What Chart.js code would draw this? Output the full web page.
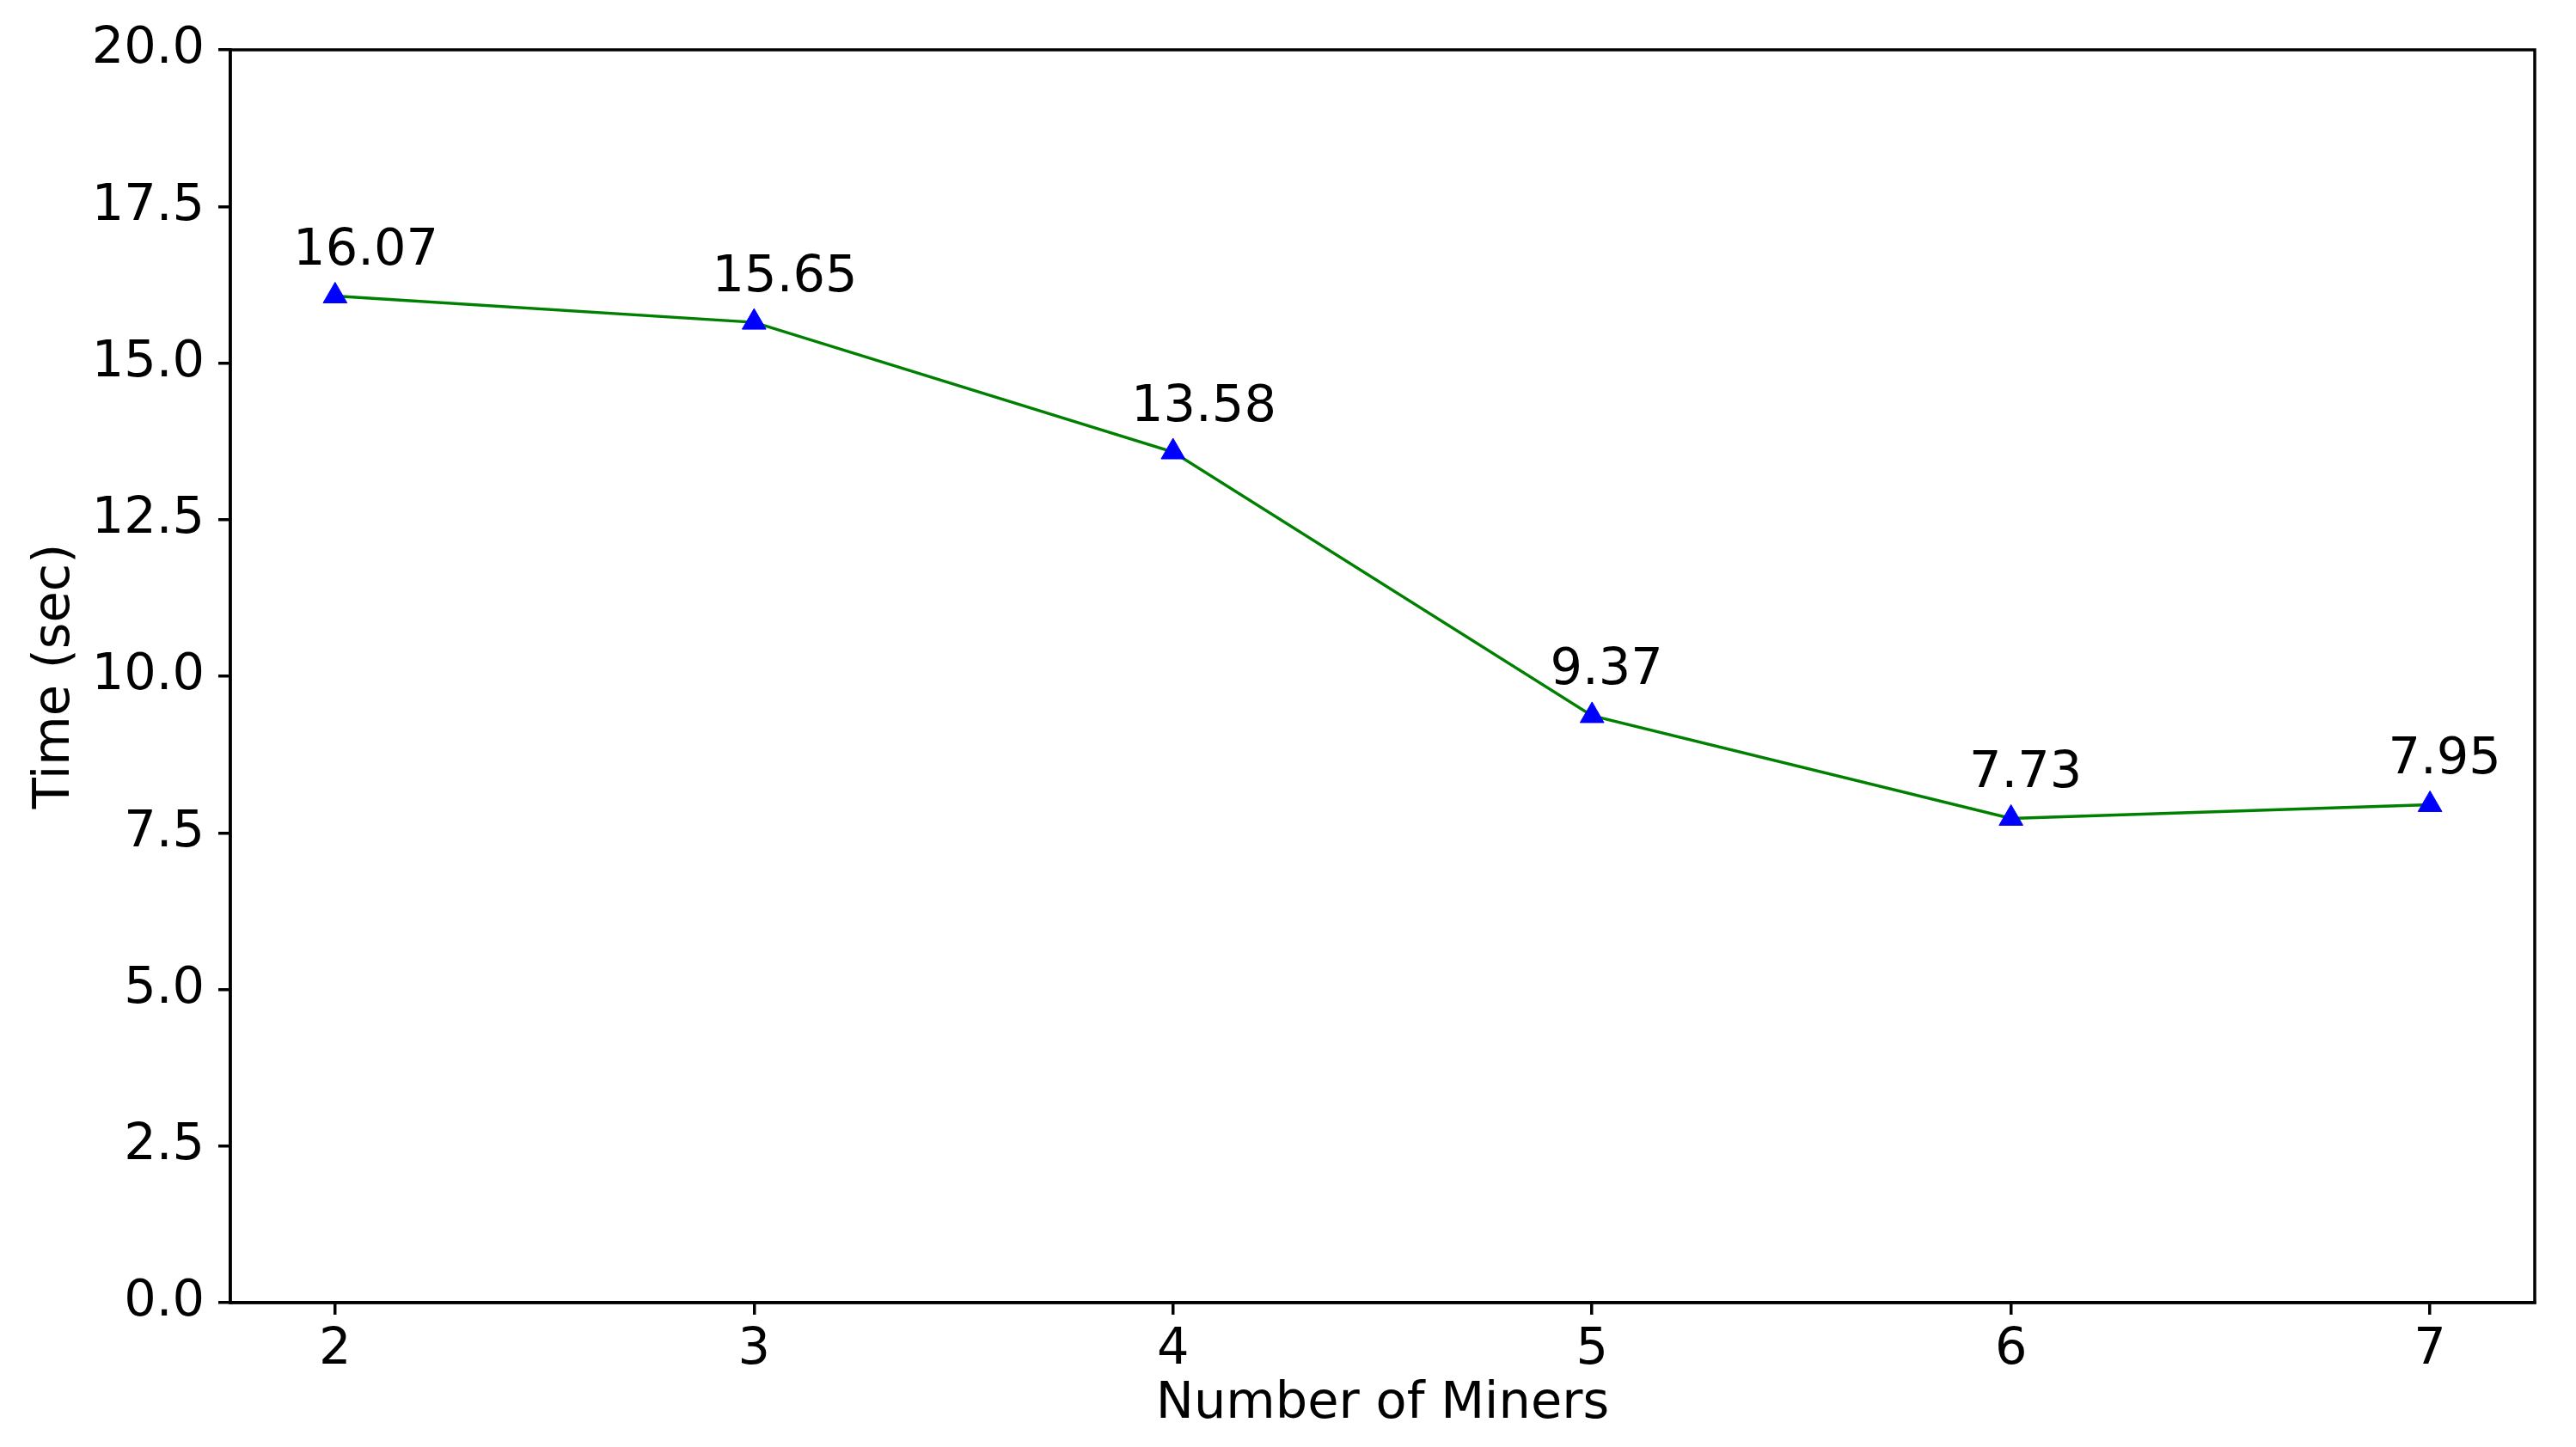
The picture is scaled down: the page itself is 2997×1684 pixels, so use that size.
<!DOCTYPE html>
<html>
<head>
<meta charset="utf-8">
<script src="https://cdn.jsdelivr.net/npm/chart.js@4"></script>
<style>
html,body{margin:0;padding:0;background:#fff;}
#wrap{width:2997px;height:1684px;}
</style>
</head>
<body>
<div id="wrap"><canvas id="c" width="2997" height="1684"></canvas></div>
<script>
const miners = [2, 3, 4, 5, 6, 7];
const times = [16.07, 15.65, 13.58, 9.37, 7.73, 7.95];
const yTicks = [0, 2.5, 5, 7.5, 10, 12.5, 15, 17.5, 20];
const xLabel = 'Number of Miners';
const yLabel = 'Time (sec)';

const FONT = 'DejaVu Sans';
const FS = 59;

const boxPlugin = {
  id: 'box',
  afterDraw(chart) {
    const {ctx, chartArea: a} = chart;
    ctx.save();
    ctx.strokeStyle = '#000';
    ctx.lineWidth = 3.5;
    ctx.strokeRect(a.left, a.top, a.right - a.left, a.bottom - a.top);
    ctx.restore();
  }
};

const labelPlugin = {
  id: 'vals',
  afterDatasetsDraw(chart) {
    const {ctx} = chart;
    const xs = chart.scales.x, ys = chart.scales.y;
    ctx.save();
    ctx.font = FS + 'px "' + FONT + '"';
    ctx.fillStyle = '#000';
    ctx.textAlign = 'left';
    ctx.textBaseline = 'alphabetic';
    miners.forEach((m, i) => {
      const px = xs.getPixelForValue(m - 0.1);
      const py = ys.getPixelForValue(times[i] + 0.5);
      ctx.fillText(times[i].toFixed(2), px, py);
    });
    ctx.restore();
  }
};

new Chart(document.getElementById('c'), {
  type: 'line',
  data: {
    datasets: [{
      data: miners.map((m, i) => ({x: m, y: times[i]})),
      borderColor: '#008000',
      borderWidth: 3.5,
      pointStyle: 'triangle',
      pointRadius: 16,
      pointHoverRadius: 16,
      pointBackgroundColor: '#0000ff',
      pointBorderColor: '#0000ff',
      pointBorderWidth: 1,
      tension: 0,
      fill: false
    }]
  },
  options: {
    responsive: false,
    animation: false,
    devicePixelRatio: 1,
    layout: {padding: {left: 0, top: 58, right: 48, bottom: 0}},
    plugins: {legend: {display: false}, tooltip: {enabled: false}},
    scales: {
      x: {
        type: 'linear',
        min: 1.75,
        max: 7.25,
        afterBuildTicks(s) { s.ticks = miners.map(v => ({value: v})); },
        afterFit(s) { s.height = 1684 - 1516; },
        grid: {display: true, drawOnChartArea: false, drawTicks: true, tickLength: 14, color: '#000', lineWidth: 3.5},
        border: {display: true, color: '#000', width: 3.5},
        ticks: {color: '#000', font: {family: FONT, size: FS}, padding: 6, maxRotation: 0, callback: v => String(v)},
        title: {display: true, text: xLabel, color: '#000', font: {family: FONT, size: FS}, padding: {top: 0, bottom: 14}}
      },
      y: {
        type: 'linear',
        min: 0,
        max: 20,
        afterBuildTicks(s) { s.ticks = yTicks.map(v => ({value: v})); },
        afterFit(s) { s.width = 268; },
        grid: {display: true, drawOnChartArea: false, drawTicks: true, tickLength: 14, color: '#000', lineWidth: 3.5},
        border: {display: true, color: '#000', width: 3.5},
        ticks: {color: '#000', font: {family: FONT, size: FS}, padding: 16, callback: v => v.toFixed(1)},
        title: {display: true, text: yLabel, color: '#000', font: {family: FONT, size: FS}, padding: {top: 29, bottom: 0}}
      }
    }
  },
  plugins: [boxPlugin, labelPlugin]
});
</script>
</body>
</html>
